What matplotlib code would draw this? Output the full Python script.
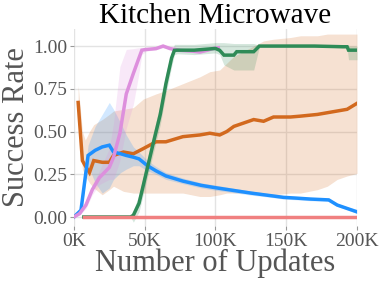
import numpy as np
import matplotlib.pyplot as plt

# x positions in thousands of updates
blue_x = [0, 5, 10, 15, 20, 25, 28, 33, 37, 42, 46, 52, 58, 65, 77, 90, 101, 113, 125, 137, 148, 158, 167, 175, 180, 186, 193, 200]
blue_y = [0.0, 0.04, 0.36, 0.39, 0.41, 0.42, 0.38, 0.37, 0.36, 0.35, 0.34, 0.30, 0.27, 0.24, 0.21, 0.185, 0.17, 0.155, 0.14, 0.127, 0.115, 0.11, 0.105, 0.102, 0.10, 0.07, 0.05, 0.03]
blue_lo = [0.0, 0.02, 0.30, 0.20, 0.14, 0.17, 0.22, 0.26, 0.28, 0.30, 0.30, 0.27, 0.25, 0.22, 0.195, 0.17, 0.155, 0.142, 0.128, 0.117, 0.105, 0.10, 0.095, 0.093, 0.092, 0.062, 0.043, 0.02]
blue_hi = [0.0, 0.06, 0.42, 0.53, 0.60, 0.67, 0.63, 0.55, 0.48, 0.41, 0.38, 0.33, 0.295, 0.26, 0.228, 0.20, 0.185, 0.168, 0.152, 0.138, 0.126, 0.12, 0.115, 0.112, 0.11, 0.08, 0.06, 0.045]

orange_x = [3, 6, 8, 11, 14, 20, 25, 28, 35, 42, 49, 58, 65, 77, 89, 96, 103, 108, 113, 120, 127, 134, 141, 153, 160, 172, 179, 186, 193, 200]
orange_y = [0.67, 0.33, 0.30, 0.26, 0.33, 0.32, 0.32, 0.36, 0.38, 0.37, 0.40, 0.44, 0.44, 0.47, 0.48, 0.49, 0.48, 0.50, 0.53, 0.55, 0.57, 0.56, 0.585, 0.585, 0.59, 0.60, 0.61, 0.62, 0.63, 0.665]
orange_lo = [0.55, 0.28, 0.24, 0.20, 0.17, 0.13, 0.16, 0.18, 0.15, 0.14, 0.14, 0.14, 0.14, 0.14, 0.12, 0.12, 0.13, 0.14, 0.14, 0.14, 0.14, 0.13, 0.13, 0.14, 0.14, 0.16, 0.18, 0.22, 0.24, 0.255]
orange_hi = [0.77, 0.50, 0.45, 0.50, 0.54, 0.57, 0.60, 0.62, 0.63, 0.64, 0.69, 0.72, 0.74, 0.78, 0.82, 0.85, 0.86, 0.90, 0.94, 0.97, 1.00, 1.03, 1.04, 1.05, 1.06, 1.06, 1.07, 1.07, 1.07, 1.07]

pink_x = [0, 4, 8.5, 13, 18, 25, 28, 32.5, 37, 42, 45.5, 48, 51, 58, 63, 68, 75, 84, 89, 94, 98, 102]
pink_y = [0.0, 0.02, 0.07, 0.16, 0.23, 0.29, 0.35, 0.49, 0.72, 0.84, 0.92, 0.976, 0.98, 0.985, 1.0, 0.985, 0.975, 0.97, 0.965, 0.975, 0.985, 0.99]
pink_lo = [0.0, 0.01, 0.05, 0.13, 0.19, 0.22, 0.22, 0.33, 0.52, 0.66, 0.82, 0.95, 0.97, 0.98, 0.99, 0.98, 0.97, 0.965, 0.96, 0.97, 0.98, 0.985]
pink_hi = [0.0, 0.03, 0.09, 0.19, 0.27, 0.40, 0.55, 0.88, 0.98, 0.985, 0.99, 0.99, 0.99, 0.99, 1.0, 0.99, 0.98, 0.975, 0.97, 0.98, 0.99, 0.995]

green_x = [7, 40, 42, 46, 51, 56, 61, 65, 69, 71, 73, 85, 100, 103, 106, 113, 115, 127, 131, 150, 170, 190, 193, 194, 200]
green_y = [0.0, 0.0, 0.01, 0.08, 0.255, 0.43, 0.60, 0.78, 0.93, 0.975, 0.976, 0.976, 0.986, 0.975, 0.947, 0.947, 0.967, 0.967, 1.0, 1.0, 1.0, 0.996, 0.996, 0.976, 0.976]
green_lo = [0.0, 0.0, -0.03, 0.03, 0.20, 0.37, 0.54, 0.72, 0.88, 0.95, 0.955, 0.95, 0.96, 0.95, 0.89, 0.86, 0.86, 0.86, 0.995, 0.995, 0.995, 0.99, 0.99, 0.92, 0.92]
green_hi = [0.0, 0.0, 0.04, 0.13, 0.31, 0.49, 0.66, 0.84, 0.97, 1.01, 1.01, 1.01, 1.02, 1.02, 1.02, 1.015, 1.015, 1.015, 1.005, 1.005, 1.005, 1.0, 1.0, 1.0, 1.0]

red_x = [7, 200]
red_y = [0.0, 0.0]

xticks = [0, 50, 100, 150, 200]
xtick_labels = ["0K", "50K", "100K", "150K", "200K"]
yticks = [0.0, 0.25, 0.5, 0.75, 1.0]

plt.rcParams['font.family'] = ['Liberation Serif', 'DejaVu Serif']

fig = plt.figure(figsize=(3.79, 2.84), dpi=100)
ax = fig.add_axes([0.195, 0.204, 0.747, 0.694])

series = [
    (orange_x, orange_y, orange_lo, orange_hi, '#D2691E'),
    (blue_x, blue_y, blue_lo, blue_hi, '#1E90FF'),
    (pink_x, pink_y, pink_lo, pink_hi, '#DD8FDD'),
    (green_x, green_y, green_lo, green_hi, '#2E8B57'),
]
for x, y, lo, hi, c in series:
    xs = np.array(x) * 1000
    ax.fill_between(xs, lo, hi, color=c, alpha=0.2, linewidth=0)
for x, y, lo, hi, c in series:
    xs = np.array(x) * 1000
    ax.plot(xs, y, color=c, lw=2.5, solid_joinstyle='miter')
ax.plot(np.array(red_x) * 1000, red_y, color='#F08080', lw=2.5)

ax.set_xlim(0, 200000)
ax.set_ylim(-0.053, 1.1)
ax.set_xticks([t * 1000 for t in xticks])
ax.set_xticklabels(xtick_labels)
ax.set_yticks(yticks)
ax.set_yticklabels(["%.2f" % t for t in yticks])
ax.grid(True, color='#e3e3e3', lw=1)
ax.set_axisbelow(True)
for s in ax.spines.values():
    s.set_visible(False)
ax.tick_params(axis='both', labelsize=14, colors='#555555', length=3, width=0.8, pad=2)
ax.tick_params(axis='both', color='#999999')

ax.set_title("Kitchen Microwave", fontsize=21, pad=2)
ax.set_xlabel("Number of Updates", fontsize=22, color='#555555', labelpad=-1)
ax.set_ylabel("Success Rate", fontsize=22, color='#555555', labelpad=1)

fig.savefig("out.png", dpi=100)
